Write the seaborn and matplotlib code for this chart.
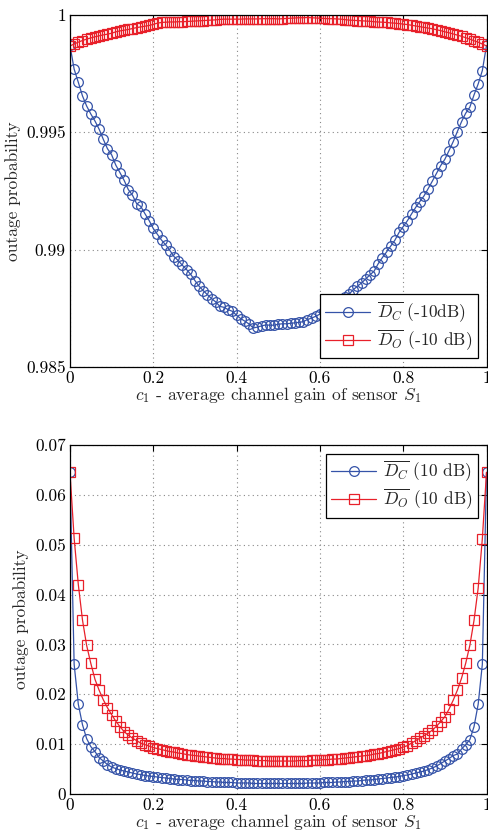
import numpy as np
import pandas as pd
import matplotlib
matplotlib.use("Agg")
import matplotlib.pyplot as plt
import seaborn as sns

# c1 sweep, 0 to 1 in steps of 0.01
c1 = np.round(np.arange(0, 101) / 100, 2)

# top panel, -10 dB
dc_low = [
    0.99870, 0.99769, 0.99713, 0.99655, 0.99612, 0.99578, 0.99548, 0.99513, 0.99470, 0.99430,
    0.99404, 0.99360, 0.99328, 0.99295, 0.99256, 0.99232, 0.99196, 0.99184, 0.99153, 0.99124,
    0.99090, 0.99065, 0.99040, 0.99020, 0.98996, 0.98970, 0.98953, 0.98933, 0.98915, 0.98894,
    0.98868, 0.98844, 0.98825, 0.98808, 0.98791, 0.98777, 0.98758, 0.98754, 0.98744, 0.98737,
    0.98720, 0.98706, 0.98695, 0.98683, 0.98666, 0.98670, 0.98675, 0.98679, 0.98678, 0.98678,
    0.98682, 0.98684, 0.98684, 0.98686, 0.98688, 0.98690, 0.98693, 0.98702, 0.98708, 0.98716,
    0.98725, 0.98739, 0.98754, 0.98765, 0.98772, 0.98782, 0.98796, 0.98810, 0.98829, 0.98844,
    0.98858, 0.98875, 0.98892, 0.98908, 0.98940, 0.98966, 0.98990, 0.99015, 0.99040, 0.99073,
    0.99098, 0.99123, 0.99152, 0.99180, 0.99205, 0.99229, 0.99260, 0.99292, 0.99325, 0.99358,
    0.99385, 0.99422, 0.99460, 0.99503, 0.99545, 0.99581, 0.99607, 0.99659, 0.99706, 0.99763,
    0.99870,
]
do_low = [
    0.99868, 0.99876, 0.99884, 0.99891, 0.99897, 0.99902, 0.99907, 0.99911, 0.99915, 0.99918,
    0.99922, 0.99928, 0.99932, 0.99935, 0.99938, 0.99942, 0.99946, 0.99949, 0.99952, 0.99955,
    0.99960, 0.99965, 0.99968, 0.99969, 0.99970, 0.99970, 0.99971, 0.99971, 0.99972, 0.99973,
    0.99974, 0.99975, 0.99976, 0.99977, 0.99978, 0.99979, 0.99981, 0.99982, 0.99982, 0.99982,
    0.99982, 0.99982, 0.99983, 0.99983, 0.99983, 0.99983, 0.99984, 0.99984, 0.99984, 0.99984,
    0.99983, 0.99984, 0.99985, 0.99986, 0.99987, 0.99988, 0.99988, 0.99989, 0.99988, 0.99987,
    0.99986, 0.99985, 0.99984, 0.99984, 0.99983, 0.99982, 0.99980, 0.99978, 0.99977, 0.99976,
    0.99975, 0.99974, 0.99973, 0.99971, 0.99970, 0.99969, 0.99968, 0.99966, 0.99965, 0.99963,
    0.99961, 0.99959, 0.99956, 0.99953, 0.99950, 0.99947, 0.99944, 0.99941, 0.99937, 0.99933,
    0.99928, 0.99924, 0.99919, 0.99914, 0.99909, 0.99903, 0.99897, 0.99890, 0.99884, 0.99876,
    0.99868,
]

# bottom panel, 10 dB
dc_high = [
    0.0645, 0.0260, 0.0180, 0.0139, 0.0111, 0.0095, 0.0085, 0.0073, 0.0066, 0.0059,
    0.0054, 0.0051, 0.0048, 0.0046, 0.0044, 0.0042, 0.0040, 0.0039, 0.0037, 0.0036,
    0.0035, 0.0034, 0.0033, 0.0032, 0.0031, 0.0030, 0.0029, 0.0029, 0.0028, 0.0027,
    0.0027, 0.0026, 0.0026, 0.0025, 0.0025, 0.0024, 0.0024, 0.0023, 0.0023, 0.0023,
    0.0022, 0.0022, 0.0022, 0.0022, 0.0021, 0.0021, 0.0021, 0.0021, 0.0021, 0.0021,
    0.0021, 0.0021, 0.0021, 0.0021, 0.0021, 0.0021, 0.0021, 0.0022, 0.0022, 0.0022,
    0.0022, 0.0023, 0.0023, 0.0023, 0.0024, 0.0024, 0.0025, 0.0025, 0.0026, 0.0026,
    0.0027, 0.0028, 0.0028, 0.0029, 0.0030, 0.0031, 0.0032, 0.0033, 0.0034, 0.0035,
    0.0037, 0.0038, 0.0040, 0.0042, 0.0044, 0.0046, 0.0049, 0.0052, 0.0056, 0.0061,
    0.0066, 0.0071, 0.0077, 0.0080, 0.0090, 0.0099, 0.0109, 0.0135, 0.0180, 0.0260,
    0.0645,
]
do_high = [
    0.0645, 0.0513, 0.0420, 0.0349, 0.0298, 0.0262, 0.0230, 0.0208, 0.0189, 0.0173,
    0.0159, 0.0146, 0.0135, 0.0125, 0.0118, 0.0112, 0.0107, 0.0102, 0.0099, 0.0096,
    0.0093, 0.0091, 0.0089, 0.0087, 0.0085, 0.0084, 0.0082, 0.0081, 0.0079, 0.0078,
    0.0077, 0.0076, 0.0075, 0.0074, 0.0073, 0.0072, 0.0071, 0.0071, 0.0070, 0.0070,
    0.0069, 0.0069, 0.0068, 0.0068, 0.0068, 0.0067, 0.0067, 0.0067, 0.0066, 0.0066,
    0.0066, 0.0066, 0.0066, 0.0066, 0.0066, 0.0067, 0.0067, 0.0067, 0.0068, 0.0068,
    0.0068, 0.0069, 0.0069, 0.0070, 0.0070, 0.0071, 0.0072, 0.0073, 0.0074, 0.0075,
    0.0076, 0.0077, 0.0078, 0.0080, 0.0081, 0.0083, 0.0085, 0.0087, 0.0089, 0.0091,
    0.0094, 0.0097, 0.0102, 0.0107, 0.0112, 0.0117, 0.0122, 0.0128, 0.0136, 0.0145,
    0.0155, 0.0170, 0.0188, 0.0208, 0.0232, 0.0262, 0.0298, 0.0348, 0.0413, 0.0512,
    0.0645,
]

top_yticks = [0.985, 0.99, 0.995, 1.0]
top_ylabels = ["0.985", "0.99", "0.995", "1"]
bot_yticks = [0, 0.01, 0.02, 0.03, 0.04, 0.05, 0.06, 0.07]
bot_ylabels = ["0", "0.01", "0.02", "0.03", "0.04", "0.05", "0.06", "0.07"]
xticks = [0, 0.2, 0.4, 0.6, 0.8, 1.0]
xlabels = ["0", "0.2", "0.4", "0.6", "0.8", "1"]

BLUE = "#3553a8"
RED = "#e8202a"

sns.set_style("white")
plt.rcParams["font.family"] = ["cmr10", "DejaVu Serif"]
plt.rcParams["mathtext.fontset"] = "cm"
plt.rcParams["axes.formatter.use_mathtext"] = True
plt.rcParams["axes.unicode_minus"] = False

fig = plt.figure(figsize=(4.89, 8.34), dpi=100)
ax_top = fig.add_axes([0.1431, 0.5600, 0.8518, 0.4221])
ax_bot = fig.add_axes([0.1431, 0.0480, 0.8518, 0.4185])


def draw_curve(ax, y, color, marker, label):
    df = pd.DataFrame({"c1": c1, "p": y})
    sns.lineplot(data=df, x="c1", y="p", ax=ax, color=color, linewidth=0.9,
                 marker=marker, markersize=7 if marker == "o" else 6.5,
                 markerfacecolor="none", markeredgecolor=color,
                 markeredgewidth=0.9, label=label, legend=False)


def style_axes(ax, yticks, ylabels, ylim):
    ax.set_xlim(0, 1)
    ax.set_ylim(*ylim)
    ax.set_xticks(xticks)
    ax.set_xticklabels(xlabels)
    ax.set_yticks(yticks)
    ax.set_yticklabels(ylabels)
    ax.tick_params(direction="in", top=True, right=True, length=4,
                   width=0.8, labelsize=12.5, colors="black", pad=3)
    ax.grid(True, linestyle=(0, (1, 3)), color="#888888", linewidth=0.8)
    for sp in ax.spines.values():
        sp.set_color("black")
        sp.set_linewidth(0.9)
    ax.set_xlabel(r"$c_1$ - average channel gain of sensor $S_1$", fontsize=12.5, labelpad=-1)
    ax.set_ylabel("outage probability", fontsize=12.5, labelpad=4)


draw_curve(ax_top, dc_low, BLUE, "o", r"$\overline{D_C}$ (-10dB)")
draw_curve(ax_top, do_low, RED, "s", r"$\overline{D_O}$ (-10 dB)")
style_axes(ax_top, top_yticks, top_ylabels, (0.985, 1.0))
leg = ax_top.legend(loc="lower right", fontsize=12.5, frameon=True, fancybox=False,
                    edgecolor="black", framealpha=1, borderpad=0.3,
                    handlelength=2.6, handletextpad=0.4, labelspacing=0.2,
                    borderaxespad=0.5)
leg.get_frame().set_linewidth(0.9)

draw_curve(ax_bot, dc_high, BLUE, "o", r"$\overline{D_C}$ (10 dB)")
draw_curve(ax_bot, do_high, RED, "s", r"$\overline{D_O}$ (10 dB)")
style_axes(ax_bot, bot_yticks, bot_ylabels, (0, 0.07))
leg = ax_bot.legend(loc="upper right", fontsize=12.5, frameon=True, fancybox=False,
                    edgecolor="black", framealpha=1, borderpad=0.3,
                    handlelength=2.6, handletextpad=0.4, labelspacing=0.2,
                    borderaxespad=0.5)
leg.get_frame().set_linewidth(0.9)

fig.savefig("out.png", dpi=100)
